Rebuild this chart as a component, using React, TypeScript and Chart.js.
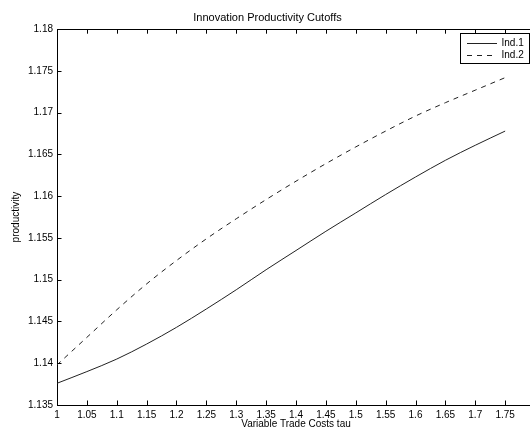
import React, { useEffect, useRef } from "react";
import { Chart, registerables } from "chart.js";

Chart.register(...registerables);

const tau = [1, 1.05, 1.1, 1.15, 1.2, 1.25, 1.3, 1.35, 1.4, 1.45, 1.5, 1.55, 1.6, 1.65, 1.7, 1.75];
const ind1 = [1.1376, 1.139, 1.1405, 1.1423, 1.1443, 1.1465, 1.1488, 1.1512, 1.1535, 1.1558, 1.158, 1.1602, 1.1623, 1.1643, 1.1661, 1.1678];
const ind2 = [1.1398, 1.1431, 1.1464, 1.1495, 1.1523, 1.1549, 1.1573, 1.1596, 1.1618, 1.1639, 1.1659, 1.1678, 1.1696, 1.1712, 1.1727, 1.1742];
const xTicks = [1, 1.05, 1.1, 1.15, 1.2, 1.25, 1.3, 1.35, 1.4, 1.45, 1.5, 1.55, 1.6, 1.65, 1.7, 1.75, 1.8];
const xTickLabels = ["1", "1.05", "1.1", "1.15", "1.2", "1.25", "1.3", "1.35", "1.4", "1.45", "1.5", "1.55", "1.6", "1.65", "1.7", "1.75", ""];
const yTicks = [1.135, 1.14, 1.145, 1.15, 1.155, 1.16, 1.165, 1.17, 1.175, 1.18];
const yTickLabels = ["1.135", "1.14", "1.145", "1.15", "1.155", "1.16", "1.165", "1.17", "1.175", "1.18"];
const seriesNames = ["Ind.1", "Ind.2"];

const FONT = "'Liberation Sans', Arial, Helvetica, sans-serif";

const framePlugin = {
  id: "frame",
  afterDraw(chart: any) {
    const { ctx, chartArea } = chart;
    const { left, right, top, bottom } = chartArea;
    const xs = chart.scales.x;
    const ys = chart.scales.y;
    const tl = 4.5;
    ctx.save();
    ctx.strokeStyle = "#000";
    ctx.lineWidth = 1;
    ctx.beginPath();
    ctx.moveTo(left, Math.round(top) + 0.5);
    ctx.lineTo(right, Math.round(top) + 0.5);
    ctx.moveTo(Math.round(right) + 0.5, top);
    ctx.lineTo(Math.round(right) + 0.5, bottom);
    xTicks.forEach((v, i) => {
      if (i === 0 || i === xTicks.length - 1) return;
      const px = Math.round(xs.getPixelForValue(v)) + 0.5;
      ctx.moveTo(px, bottom);
      ctx.lineTo(px, bottom - tl);
      ctx.moveTo(px, top);
      ctx.lineTo(px, top + tl);
    });
    yTicks.forEach((v, i) => {
      if (i === 0 || i === yTicks.length - 1) return;
      const py = Math.round(ys.getPixelForValue(v)) + 0.5;
      ctx.moveTo(left, py);
      ctx.lineTo(left + tl, py);
      ctx.moveTo(right, py);
      ctx.lineTo(right - tl, py);
    });
    ctx.stroke();

    // legend
    const bw = 69;
    const bh = 30;
    const bx = Math.round(right - 6 - bw) + 0.5;
    const by = Math.round(top + 4) + 0.5;
    ctx.fillStyle = "#fff";
    ctx.fillRect(bx, by, bw, bh);
    ctx.strokeStyle = "#000";
    ctx.strokeRect(bx, by, bw, bh);
    ctx.font = "10px " + FONT;
    ctx.textBaseline = "middle";
    ctx.textAlign = "left";
    chart.data.datasets.forEach((ds: any, i: number) => {
      const ly = Math.round(by + 9.5 + i * 12) + 0.5;
      ctx.beginPath();
      ctx.strokeStyle = ds.borderColor;
      ctx.lineWidth = 1;
      ctx.setLineDash(ds.borderDash || []);
      ctx.moveTo(bx + 6.5, ly);
      ctx.lineTo(bx + 36.5, ly);
      ctx.stroke();
      ctx.setLineDash([]);
      ctx.fillStyle = "#000";
      ctx.fillText(ds.label, bx + 41, ly);
    });
    ctx.restore();
  },
};

export default function App() {
  const ref = useRef<HTMLCanvasElement | null>(null);
  useEffect(() => {
    if (!ref.current) return;
    const chart = new Chart(ref.current, {
      type: "line",
      data: {
        datasets: [
          {
            label: seriesNames[0],
            data: tau.map((t, i) => ({ x: t, y: ind1[i] })),
            borderColor: "#222",
            borderWidth: 1,
            pointRadius: 0,
            cubicInterpolationMode: "monotone",
            fill: false,
          },
          {
            label: seriesNames[1],
            data: tau.map((t, i) => ({ x: t, y: ind2[i] })),
            borderColor: "#222",
            borderWidth: 1,
            borderDash: [5, 5],
            pointRadius: 0,
            cubicInterpolationMode: "monotone",
            fill: false,
          },
        ],
      },
      options: {
        responsive: false,
        animation: false,
        devicePixelRatio: 1,
        layout: { padding: { left: 0, right: 10, top: 0, bottom: 0 } },
        plugins: {
          legend: { display: false },
          tooltip: { enabled: false },
          title: {
            display: true,
            text: "Innovation Productivity Cutoffs",
            color: "#000",
            font: { family: FONT, size: 11, weight: "normal" },
            padding: { top: 11, bottom: 5 },
          },
        },
        scales: {
          x: {
            type: "linear",
            min: 1,
            max: 1.8,
            afterBuildTicks: (s: any) => {
              s.ticks = xTicks.map((v) => ({ value: v }));
            },
            afterFit: (s: any) => {
              s.height = 31;
            },
            grid: { display: false, drawTicks: false },
            border: { display: true, color: "#000", width: 1 },
            ticks: {
              color: "#000",
              font: { family: FONT, size: 10 },
              padding: 4,
              maxRotation: 0,
              autoSkip: false,
              callback: (v: any, i: number) => xTickLabels[i],
            },
            title: {
              display: true,
              text: "Variable Trade Costs tau",
              color: "#000",
              font: { family: FONT, size: 10 },
              padding: { top: 0, bottom: 6 },
            },
          },
          y: {
            type: "linear",
            min: 1.135,
            max: 1.18,
            afterBuildTicks: (s: any) => {
              s.ticks = yTicks.map((v) => ({ value: v }));
            },
            afterFit: (s: any) => {
              s.width = 57;
            },
            grid: { display: false, drawTicks: false },
            border: { display: true, color: "#000", width: 1 },
            ticks: {
              color: "#000",
              font: { family: FONT, size: 10 },
              padding: 4,
              autoSkip: false,
              callback: (v: any, i: number) => yTickLabels[i],
            },
            title: {
              display: true,
              text: "productivity",
              color: "#000",
              font: { family: FONT, size: 10 },
              padding: { top: 10, bottom: 0 },
            },
          },
        },
      },
      plugins: [framePlugin],
    } as any);
    return () => chart.destroy();
  }, []);
  return (
    <div
      style={{
        position: "absolute",
        left: 0,
        top: 0,
        width: 530,
        height: 436,
        overflow: "hidden",
        background: "#fff",
      }}
    >
      <canvas ref={ref} width={545} height={436} style={{ display: "block" }} />
    </div>
  );
}
